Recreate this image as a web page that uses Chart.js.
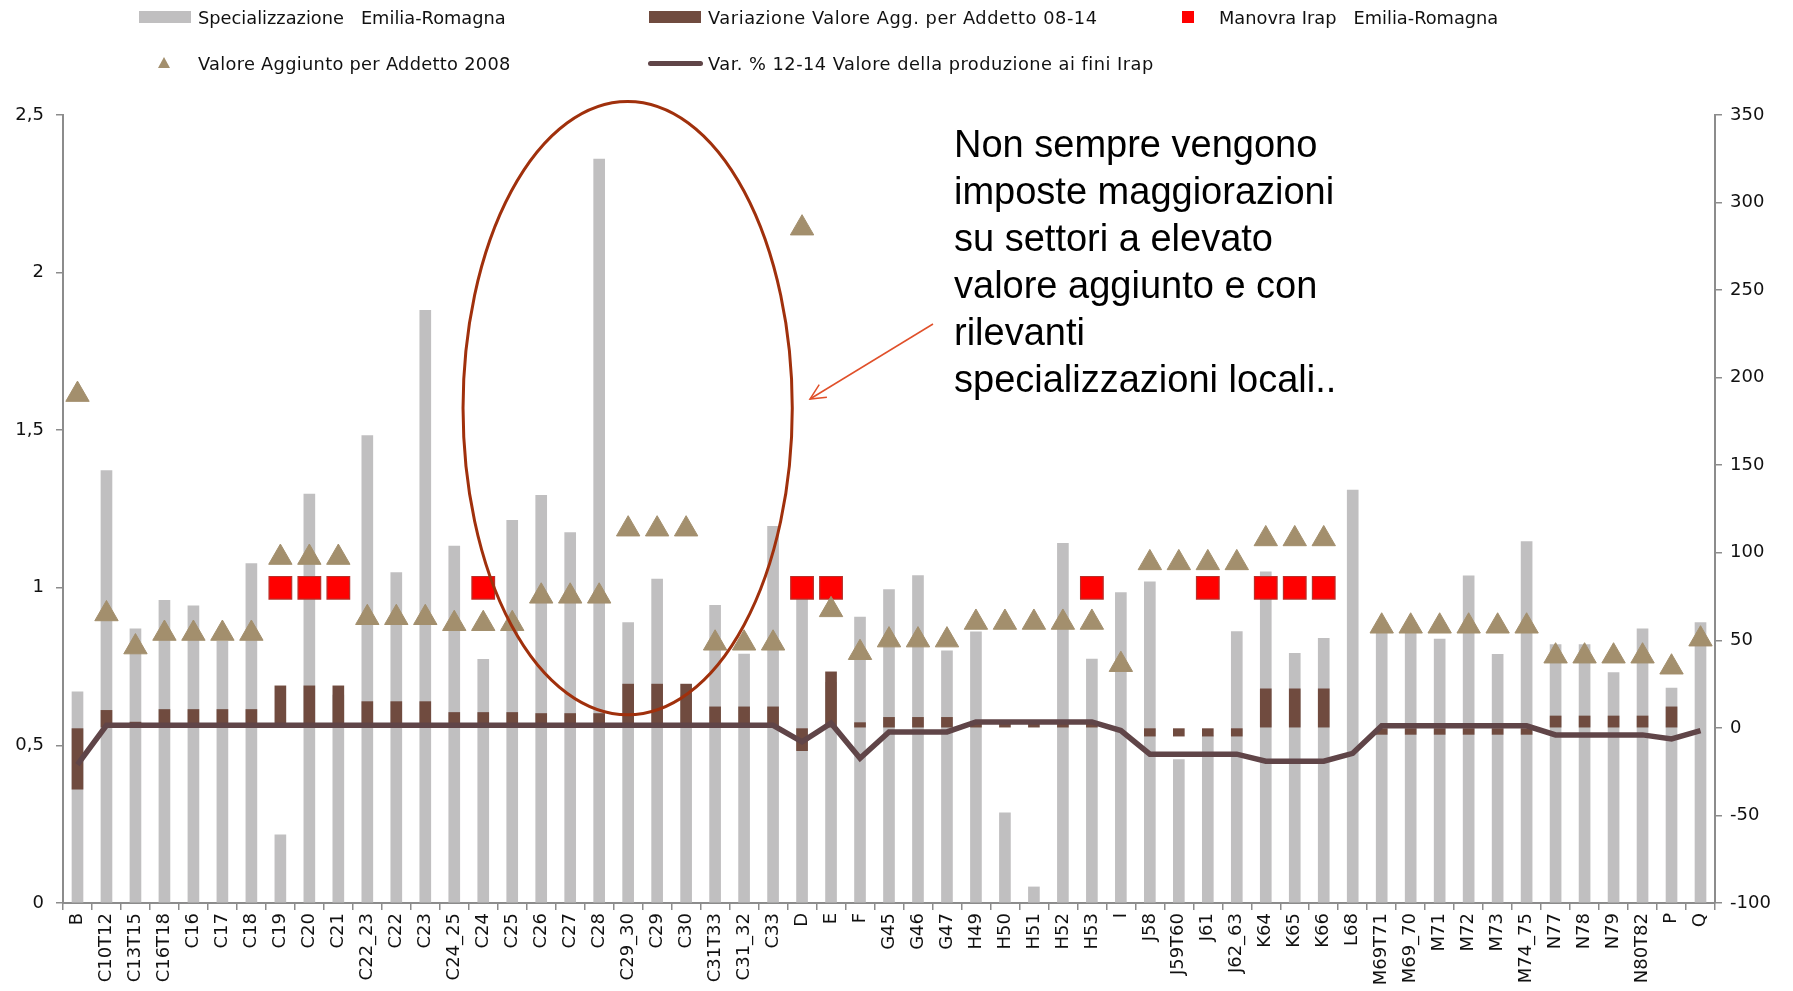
<!DOCTYPE html>
<html>
<head>
<meta charset="utf-8">
<script src="https://cdn.jsdelivr.net/npm/chart.js@4.4.1/dist/chart.umd.min.js"></script>
<style>
  html,body{margin:0;padding:0;background:#fff;}
  #wrap{position:relative;width:1793px;height:991px;overflow:hidden;}
  canvas{position:absolute;left:0;top:0;}
  .lg{position:absolute;font-family:"DejaVu Sans",sans-serif;font-size:17.8px;color:#111;white-space:pre;line-height:20px;}
  .sw{position:absolute;}
  #note{position:absolute;left:954px;top:121px;font-family:"Liberation Sans",Arial,sans-serif;font-size:38px;line-height:47px;color:#000;white-space:pre;}
</style>
</head>
<body>
<div id="wrap">
  <canvas id="c" width="1793" height="991"></canvas>
  <!-- legend -->
  <div class="sw" style="left:139px;top:11px;width:52px;height:12px;background:#C0BFC0"></div>
  <div class="lg" style="left:198px;top:8px">Specializzazione   Emilia-Romagna</div>
  <div class="sw" style="left:649px;top:11px;width:52px;height:12px;background:#704B3F"></div>
  <div class="lg" style="left:708px;top:8px;letter-spacing:0.55px">Variazione Valore Agg. per Addetto 08-14</div>
  <div class="sw" style="left:1182px;top:11px;width:12px;height:12px;background:#FF0000"></div>
  <div class="lg" style="left:1219px;top:8px">Manovra Irap   Emilia-Romagna</div>
  <div class="sw" style="left:158px;top:57px;width:0;height:0;border-left:6px solid transparent;border-right:6px solid transparent;border-bottom:11px solid #A38F6D"></div>
  <div class="lg" style="left:198px;top:54px;letter-spacing:0.3px">Valore Aggiunto per Addetto 2008</div>
  <div class="sw" style="left:648px;top:61px;width:55px;height:5px;border-radius:3px;background:#604548"></div>
  <div class="lg" style="left:708px;top:54px;letter-spacing:0.48px">Var. % 12-14 Valore della produzione ai fini Irap</div>
  <div id="note">Non sempre vengono
imposte maggiorazioni
su settori a elevato
valore aggiunto e con
rilevanti
specializzazioni locali..</div>
</div>
<script>
const categories = ['B','C10T12','C13T15','C16T18','C16','C17','C18','C19','C20','C21','C22_23','C22','C23','C24_25','C24','C25','C26','C27','C28','C29_30','C29','C30','C31T33','C31_32','C33','D','E','F','G45','G46','G47','H49','H50','H51','H52','H53','I','J58','J59T60','J61','J62_63','K64','K65','K66','L68','M69T71','M69_70','M71','M72','M73','M74_75','N77','N78','N79','N80T82','P','Q'];

const specializzazione = [0.67,1.372,0.87,0.96,0.943,0.83,1.077,0.216,1.297,0.66,1.483,1.048,1.88,1.132,0.773,1.214,1.293,1.175,2.36,0.89,1.028,0.66,0.944,0.79,1.195,1.0,0.70,0.907,0.994,1.039,0.80,0.86,0.286,0.051,1.141,0.774,0.985,1.019,0.455,0.53,0.861,1.051,0.792,0.84,1.31,0.86,0.86,0.837,1.038,0.789,1.147,0.82,0.82,0.731,0.87,0.682,0.89];

const variazioneVA = [-35,10,3.3,10.5,10.5,10.5,10.5,24,24,24,15,15,15,8.8,8.8,8.8,8.2,8.2,8.2,25,25,25,12,12,12,-13,32,3,6,6,6,2.5,2.5,2.5,2.5,2.5,null,-4.7,-4.7,-4.7,-4.7,22.3,22.3,22.3,null,-3.7,-3.7,-3.7,-3.7,-3.7,-3.7,6.8,6.8,6.8,6.8,12,null];

const manovraIrap = [null,null,null,null,null,null,null,1,1,1,null,null,null,null,1,null,null,null,null,null,null,null,null,null,null,1,1,null,null,null,null,null,null,null,null,1,null,null,null,1,null,1,1,1,null,null,null,null,null,null,null,null,null,null,null,null,null];

const vaAddetto2008 = [1.613,0.917,0.812,0.855,0.855,0.855,0.855,1.096,1.096,1.096,0.905,0.905,0.905,0.886,0.886,0.886,0.973,0.973,0.973,1.186,1.186,1.186,0.824,0.824,0.824,2.141,0.930,0.794,0.834,0.834,0.834,0.890,0.890,0.890,0.890,0.890,0.756,1.079,1.079,1.079,1.079,1.155,1.155,1.155,null,0.878,0.878,0.878,0.878,0.878,0.878,0.783,0.783,0.783,0.783,0.748,0.837];

const varProduzioneIrap = [-21,1.5,1.5,1.5,1.5,1.5,1.5,1.5,1.5,1.5,1.5,1.5,1.5,1.5,1.5,1.5,1.5,1.5,1.5,1.5,1.5,1.5,1.5,1.5,1.5,-8,2.7,-17.3,-2.3,-2.3,-2.3,3.4,3.4,3.4,3.4,3.4,-1.5,-15,-15,-15,-15,-19,-19,-19,-14.5,1.2,1.2,1.2,1.2,1.2,1.2,-4,-4,-4,-4,-6.3,-1.6];

const leftTicks = [0,0.5,1,1.5,2,2.5];
const rightTicks = [-100,-50,0,50,100,150,200,250,300,350];

const AXIS = '#8C8C8C';
const tickFont = {family:'DejaVu Sans', size:18};

const annotation = {
  id:'annotation',
  afterDatasetsDraw(chart){
    const ctx = chart.ctx, x = chart.scales.x, y = chart.scales.y;
    const cx = x.getPixelForValue(19) - 0.5;
    const cy = y.getPixelForValue(1.57);
    const step = x.getPixelForValue(1) - x.getPixelForValue(0);
    const rx = step * 5.68;
    const ry = y.getPixelForValue(0) - y.getPixelForValue(0.973);
    ctx.save();
    ctx.strokeStyle = '#A0300C';
    ctx.lineWidth = 3;
    ctx.beginPath();
    ctx.ellipse(cx, cy, rx, ry, 0, 0, Math.PI*2);
    ctx.stroke();
    // arrow
    const x1=933,y1=324,x2=810,y2=399;
    ctx.strokeStyle = '#E0502A';
    ctx.lineWidth = 1.5;
    ctx.beginPath(); ctx.moveTo(x1,y1); ctx.lineTo(x2,y2); ctx.stroke();
    const ang = Math.atan2(y2-y1,x2-x1);
    const L = 17, a = 0.45;
    ctx.beginPath();
    ctx.moveTo(x2 - L*Math.cos(ang-a), y2 - L*Math.sin(ang-a));
    ctx.lineTo(x2,y2);
    ctx.lineTo(x2 - L*Math.cos(ang+a), y2 - L*Math.sin(ang+a));
    ctx.stroke();
    ctx.restore();
  }
};

new Chart(document.getElementById('c'), {
  data:{
    labels: categories,
    datasets:[
      {type:'line', label:'Valore Aggiunto per Addetto 2008', data:vaAddetto2008, yAxisID:'y', showLine:false,
       pointStyle:'triangle', pointRadius:13.5, pointBackgroundColor:'#A38F6D', pointBorderColor:'#A38F6D', pointBorderWidth:1, order:1},
      {type:'line', label:'Manovra Irap   Emilia-Romagna', data:manovraIrap, yAxisID:'y', showLine:false,
       pointStyle:'rect', pointRadius:16, pointBackgroundColor:'#FF0000', pointBorderColor:'#B8302A', pointBorderWidth:1.2, order:2},
      {type:'line', label:'Var. % 12-14 Valore della produzione ai fini Irap', data:varProduzioneIrap, yAxisID:'y1',
       borderColor:'#604548', borderWidth:5.5, pointRadius:0, tension:0, borderJoinStyle:'miter', order:3},
      {type:'bar', label:'Variazione Valore Agg. per Addetto 08-14', data:variazioneVA, yAxisID:'y1',
       backgroundColor:'#704B3F', barThickness:11, grouped:false, order:4},
      {type:'bar', label:'Specializzazione   Emilia-Romagna', data:specializzazione, yAxisID:'y',
       backgroundColor:'#C0BFC0', barThickness:11, grouped:false, order:5}
    ]
  },
  options:{
    responsive:false,
    animation:false,
    layout:{padding:{top:115,left:0,right:0,bottom:0}},
    plugins:{legend:{display:false}, tooltip:{enabled:false}},
    scales:{
      x:{
        type:'category', offset:true,
        afterFit(s){ s.height = 88; },
        grid:{display:true, offset:true, drawOnChartArea:false, drawTicks:true, tickLength:7, color:AXIS, lineWidth:1.5},
        border:{display:true, color:AXIS, width:2},
        ticks:{autoSkip:false, maxRotation:90, minRotation:90, padding:3, color:'#111', font:tickFont}
      },
      y:{
        position:'left', min:0, max:2.5,
        afterFit(s){ s.width = 63; },
        afterBuildTicks(s){ s.ticks = leftTicks.map(v=>({value:v})); },
        grid:{display:true, drawOnChartArea:false, drawTicks:true, tickLength:7, color:AXIS, lineWidth:1.5},
        border:{display:true, color:AXIS, width:2},
        ticks:{color:'#111', font:tickFont, padding:12, callback:v=>String(v).replace('.',',')}
      },
      y1:{
        position:'right', min:-100, max:350,
        afterFit(s){ s.width = 78; },
        afterBuildTicks(s){ s.ticks = rightTicks.map(v=>({value:v})); },
        grid:{display:true, drawOnChartArea:false, drawTicks:true, tickLength:7, color:AXIS, lineWidth:1.5},
        border:{display:true, color:AXIS, width:2},
        ticks:{color:'#111', font:tickFont, padding:8}
      }
    }
  },
  plugins:[annotation]
});
</script>
</body>
</html>
